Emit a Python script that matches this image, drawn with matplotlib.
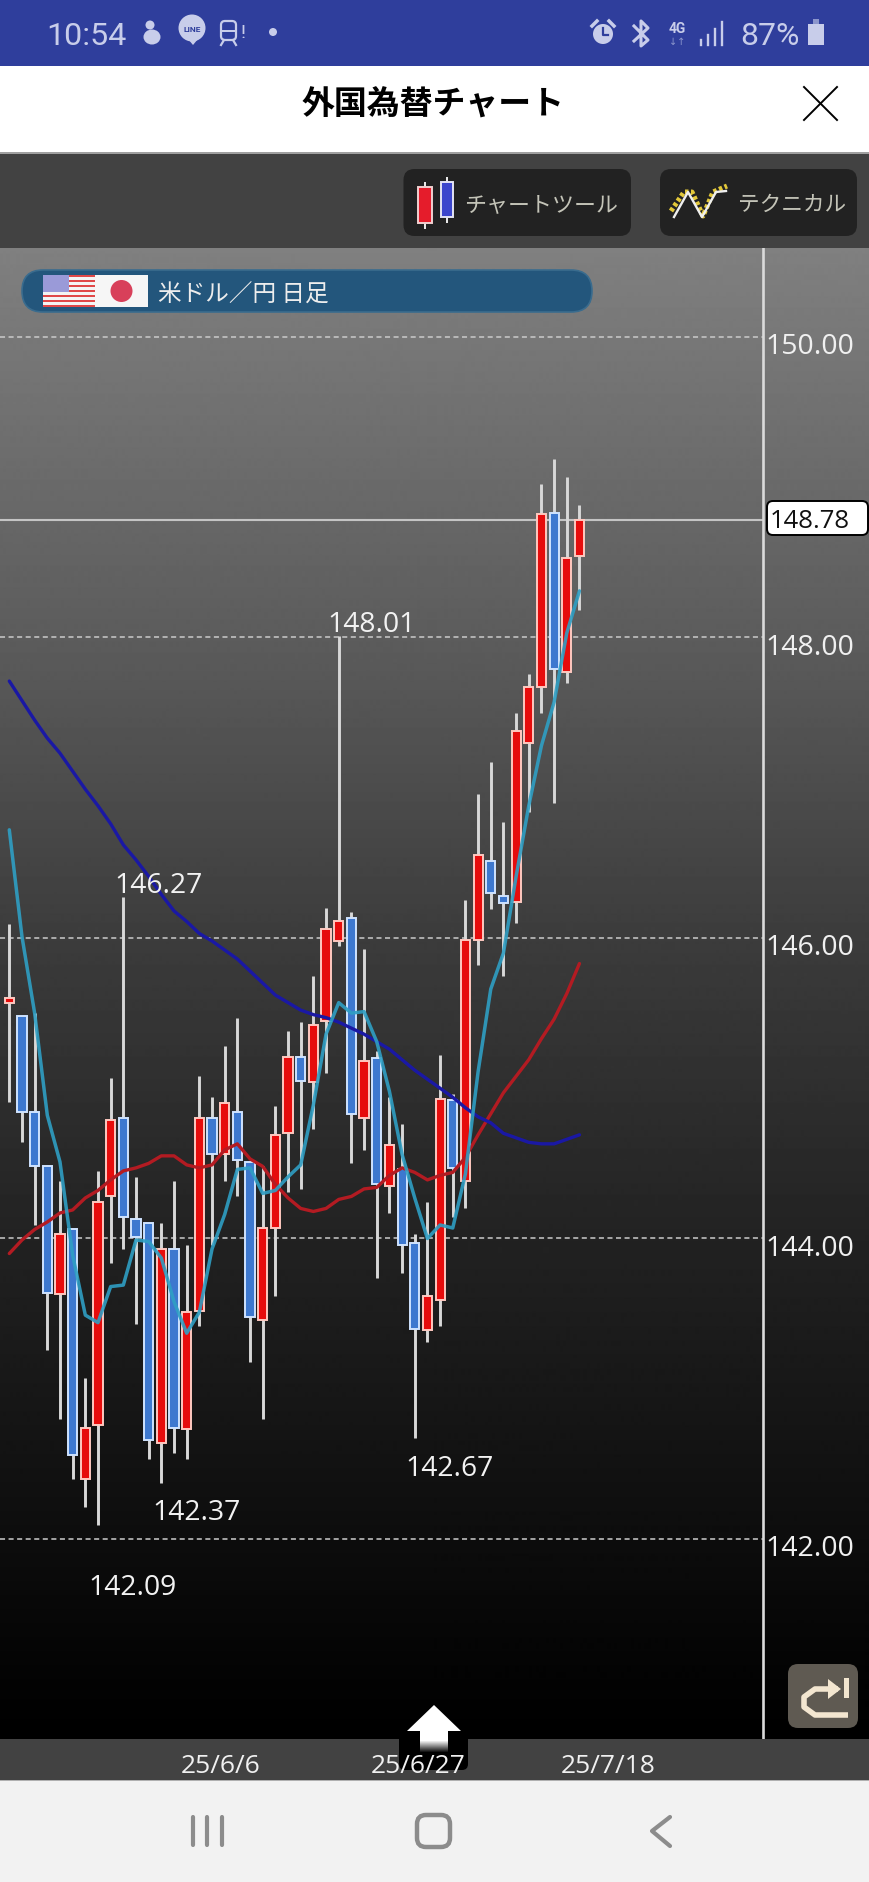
import numpy as np
import matplotlib
matplotlib.use("Agg")
import matplotlib.pyplot as plt
from matplotlib.patches import Rectangle, FancyBboxPatch, Polygon, Circle, Ellipse
from matplotlib.transforms import ScaledTranslation

plt.rcParams['font.family'] = ['Open Sans', 'Noto Sans CJK JP', 'DejaVu Sans']

# ---------- data ----------
highs = [146.09,145.48,145.50,144.48,144.38,144.06,143.07,144.45,145.07,146.27,144.41,144.10,144.10,144.38,143.96,145.08,
         144.94,145.28,145.47,144.51,144.48,144.88,145.38,145.44,145.75,146.20,148.01,146.17,145.93,145.25,144.94,144.76,
         144.03,144.24,145.22,144.96,146.25,146.96,147.17,146.77,147.50,147.76,149.02,149.19,149.07,148.88]
opens = [145.57,145.48,144.84,144.48,143.63,144.06,142.40,142.76,144.28,144.80,144.13,144.10,142.64,143.93,142.73,143.52,
         144.80,144.56,144.84,144.51,143.46,144.07,144.70,145.21,145.04,145.45,145.98,146.13,144.80,145.20,144.35,144.46,
         143.97,143.39,143.59,144.92,144.38,145.99,146.51,146.28,146.24,147.30,147.67,148.83,147.77,148.54]
closes = [145.60,144.84,144.48,143.64,144.03,142.56,142.74,144.24,144.79,144.14,144.01,142.66,143.93,142.74,143.51,144.80,
          144.56,144.90,144.52,143.48,144.07,144.69,145.21,145.05,145.42,146.06,146.11,144.83,145.18,144.36,144.62,143.96,
          143.40,143.62,144.93,144.47,145.99,146.55,146.30,146.23,147.38,147.67,148.82,147.79,148.53,148.78]
lows = [144.91,144.64,144.09,143.26,142.80,142.40,142.21,142.09,143.84,143.93,143.43,142.53,142.37,142.57,142.53,143.42,
        143.96,144.38,144.28,143.18,142.80,143.62,144.31,144.33,144.73,145.10,145.95,144.50,144.59,143.74,144.17,143.77,
        142.67,143.31,143.42,144.14,144.20,145.82,146.19,145.75,146.10,146.84,147.50,146.90,147.70,148.18]
ma_short = [146.72,146.01,145.50,144.82,144.51,143.89,143.49,143.44,143.68,143.69,143.99,143.98,143.87,143.58,143.37,143.51,
            143.93,144.16,144.46,144.47,144.30,144.32,144.41,144.49,144.89,145.36,145.57,145.50,145.51,145.31,144.98,144.56,
            144.27,144.00,144.09,144.07,144.43,145.11,145.66,145.90,146.41,146.88,147.28,147.57,148.03,148.31]
ma_mid = [143.90,143.99,144.06,144.11,144.17,144.19,144.27,144.32,144.39,144.45,144.47,144.50,144.55,144.55,144.49,144.47,
          144.49,144.59,144.63,144.53,144.48,144.36,144.27,144.20,144.18,144.20,144.26,144.28,144.33,144.34,144.42,144.47,
          144.44,144.39,144.42,144.44,144.54,144.69,144.83,144.97,145.08,145.19,145.33,145.46,145.63,145.83]
ma_long = [147.71,147.58,147.45,147.33,147.23,147.11,146.99,146.88,146.76,146.62,146.52,146.41,146.29,146.18,146.11,146.03,
           145.98,145.92,145.86,145.78,145.70,145.62,145.57,145.52,145.49,145.47,145.44,145.40,145.36,145.31,145.26,145.19,
           145.12,145.06,145.00,144.94,144.87,144.81,144.77,144.70,144.67,144.64,144.63,144.63,144.66,144.69]
y_ticks = [150, 148, 146, 144, 142]
date_idx = [15, 30, 45]
date_labels = ['25/6/6', '25/6/27', '25/7/18']
last_price = 148.78
# label text, bar index, price, offset
notes = [('146.27', 9, 146.27, 35, -12), ('148.01', 26, 148.01, 33, -12), ('142.37', 12, 142.37, 35, 29),
         ('142.09', 7, 142.09, 35, 62), ('142.67', 32, 142.67, 35, 30)]

W, H = 869, 1883
PX = 0.72  # points per pixel at dpi 100
fig = plt.figure(figsize=(W / 100, H / 100), dpi=100, facecolor='#424242')

# ---------- background chrome ----------
bg = fig.add_axes([0, 0, 1, 1], zorder=0)
bg.set_xlim(0, W); bg.set_ylim(H, 0); bg.axis('off')
def rect(a, x0, y0, x1, y1, c, **kw):
    a.add_patch(Rectangle((x0, y0), x1 - x0, y1 - y0, fc=c, ec='none', **kw))
def rrect(a, x0, y0, x1, y1, c, r=10, ec='none', lw=0, **kw):
    a.add_patch(FancyBboxPatch((x0 + r, y0 + r), x1 - x0 - 2 * r, y1 - y0 - 2 * r,
                               boxstyle=f'round,pad={r},rounding_size={r}', fc=c, ec=ec, lw=lw, **kw))
rect(bg, 0, 0, W, 66.5, '#2F3E9C')
rect(bg, 0, 66.5, W, 153.5, '#FFFFFF')
rect(bg, 0, 153.5, W, 249, '#424242')
rect(bg, 0, 152.5, W, 154.5, '#A0A0A0')
rect(bg, 0, 1740, W, 1781, '#424242')
rect(bg, 0, 1781, W, H, '#F2F2F2')
rect(bg, 0, 1780.5, W, 1782, '#B0B0B0')
rrect(bg, 399, 1728, 468, 1771, '#000000', r=6)

# ---------- chart axes ----------
top_px, bot_px = 249, 1740
ax = fig.add_axes([0, 1 - bot_px / H, 1, (bot_px - top_px) / H], zorder=1)
ax.patch.set_alpha(0)
yscale = 150.25
bar_px = 12.67
grad_px = np.arange(top_px, bot_px + 1)
grad = np.interp(grad_px, [249, 660, 940, 1240, 1540, 1680, 1740], [128, 90, 60, 34, 13, 3, 0])[:, None]
ax.imshow(grad, extent=[0, 1, 0, 1], transform=ax.transAxes, aspect='auto', cmap='gray', vmin=0, vmax=255, zorder=0)
ax.set_ylim(150 - (bot_px - 338) / yscale, 150 + (338 - top_px) / yscale)
ax.set_xlim(-9.3 / bar_px, (W - 9.3) / bar_px)
for s in ax.spines.values():
    s.set_visible(False)

axis_x = (763.5 - 9.3) / bar_px
ax.hlines(y_ticks, ax.get_xlim()[0], axis_x, colors='#C9C9C9', lw=1.4, linestyles=[(0, (2.6, 1.8))], zorder=1, alpha=.8)
ax.hlines(last_price, ax.get_xlim()[0], axis_x, colors='#C4C4C4', lw=1.5, zorder=1)
ax.axvline(axis_x, color='#DADADA', lw=1.9, zorder=1)

idx = np.arange(len(highs))
o, c = np.array(opens), np.array(closes)
up = c >= o
ax.vlines(idx, lows, highs, colors='#D8D8D8', lw=2.1, zorder=2)
ax.bar(idx[up], np.abs(c - o)[up], bottom=np.minimum(o, c)[up], width=0.72, color='#E60C0C', edgecolor='#FFC9C0', lw=1.4, zorder=3)
ax.bar(idx[~up], np.abs(c - o)[~up], bottom=np.minimum(o, c)[~up], width=0.72, color='#3D78CF', edgecolor='#CFE3FF', lw=1.4, zorder=3)
ax.plot(idx, ma_mid, color='#B31B22', lw=2.4, zorder=4, solid_capstyle='round')
ax.plot(idx, ma_long, color='#1A18A4', lw=2.4, zorder=4, solid_capstyle='round')
ax.plot(idx, ma_short, color='#2F9FC4', lw=2.5, zorder=5, alpha=.9, solid_capstyle='round')

ax.yaxis.tick_right()
ax.set_yticks(y_ticks)
ax.set_yticklabels([f'{v:.2f}' for v in y_ticks], fontsize=20.5, color='#F0F0F0', family=['Open Sans'])
ax.tick_params(axis='y', length=0, pad=(765.5 - W) * PX, labelright=True)
for lab in ax.get_yticklabels():
    lab.set_ha('left')
    lab.set_transform(lab.get_transform() + ScaledTranslation(0, -6 / 100, fig.dpi_scale_trans))
ax.set_xticks(date_idx)
ax.set_xticklabels(date_labels, fontsize=19, color='#F0F0F0', family=['Open Sans'], ha='left')
ax.tick_params(axis='x', length=0, pad=10)
for lab in ax.get_xticklabels():
    lab.set_transform(lab.get_transform() + ScaledTranslation(-19 / 100, 0, fig.dpi_scale_trans))

for txt, i, p, dx, dy in notes:
    ax.annotate(txt, xy=(i, p), xytext=(dx * PX, -dy * PX), textcoords='offset points', ha='center', va='center',
                fontsize=20.3, color='#F2F2F2', family=['Open Sans'], zorder=6)

# ---------- overlay ----------
ui = fig.add_axes([0, 0, 1, 1], zorder=2)
ui.patch.set_alpha(0)
ui.set_xlim(0, W); ui.set_ylim(H, 0); ui.axis('off')

# last price box and value
rrect(ui, 767, 502, 868, 536, 'white', r=6, ec='black', lw=1.4)
ax_last = ui.annotate(f'{last_price:.2f}', xy=(axis_x, last_price), xycoords=ax.transData,
                      xytext=((770 - 763.5) * PX, 0), textcoords='offset points',
                      ha='left', va='center', fontsize=18.5, color='#111111', family=['Open Sans'])

# status bar
st = '#C8CDEA'
ui.text(46, 36, '10:54', fontsize=23.2, color=st, family=['Roboto'], ha='left', va='center')
ui.text(740, 36, '87%', fontsize=23, color=st, family=['Roboto'], ha='left', va='center')
ui.add_patch(Ellipse((152, 38), 17, 15, fc=st)); ui.add_patch(Circle((150, 26), 4.5, fc=st))
ui.add_patch(Circle((192, 29), 13.5, fc=st)); ui.add_patch(Polygon([[188, 40], [198, 40], [193, 46]], fc=st))
ui.text(192, 29, 'LINE', fontsize=6, color='#2F3E9C', ha='center', va='center', fontweight='bold', family=['Roboto'])
ui.add_patch(FancyBboxPatch((222, 23), 13, 17, boxstyle='round,pad=1,rounding_size=4', fc='none', ec=st, lw=1.6))
rect(ui, 222, 31, 235, 33, st)
ui.plot([224, 221], [41, 46], color=st, lw=1.6); ui.plot([233, 236], [41, 46], color=st, lw=1.6)
ui.text(243, 33, '!', fontsize=14, color=st, ha='center', va='center', family=['Roboto'])
ui.add_patch(Circle((273, 33), 4, fc=st))
ui.add_patch(Circle((603, 35), 10, fc=st)); ui.plot([603, 603, 608], [29, 36, 36], color='#2F3E9C', lw=1.6)
ui.plot([592, 597], [27, 22], color=st, lw=2.5); ui.plot([609, 614], [22, 27], color=st, lw=2.5)
ui.plot([634, 648, 641, 641, 648, 634], [27, 41, 47, 22, 29, 42], color=st, lw=2.2)
ui.text(677, 29, '4G', fontsize=10, color=st, ha='center', va='center', fontweight='bold', family=['Roboto'])
ui.text(677, 42, '↓↑', fontsize=7, color='#8C96CC', ha='center', va='center', family=['DejaVu Sans'])
for xx, yy in zip([701, 708, 715, 722], [41, 36, 30, 23]):
    ui.plot([xx, xx], [yy, 46], color=st, lw=1.7)
rect(ui, 808, 25, 824, 46, st); rect(ui, 813, 20, 819, 25, '#8C96CC')

# header
ui.text(433, 105, '外国為替チャート', fontsize=23.7, color='black', fontweight='bold', family=['Noto Sans CJK JP'], ha='center', va='center')
ui.plot([804, 837], [121, 88], color='black', lw=1.4); ui.plot([804, 837], [88, 121], color='black', lw=1.4)

# tool buttons
rrect(ui, 403.5, 170, 631, 237, '#222222', r=11)
rrect(ui, 660, 170, 857, 237, '#222222', r=11)
rect(ui, 424, 183, 426, 230, '#E8E8E8')
rect(ui, 418, 188, 432, 224, '#E51C2B'); ui.add_patch(Rectangle((418, 188), 14, 36, fc='none', ec='#F0D0D0', lw=1.4))
rect(ui, 446, 178, 448, 224, '#E8E8E8')
rect(ui, 441, 183, 453, 218, '#3C46CC'); ui.add_patch(Rectangle((441, 183), 12, 35, fc='none', ec='#E4E4F4', lw=1.4))
ui.text(541, 205, 'チャートツール', fontsize=15.8, color='#C4C4B8', family=['Noto Sans CJK JP'], ha='center', va='center')
ui.text(792, 205, 'テクニカル', fontsize=15.6, color='#C4C4B8', family=['Noto Sans CJK JP'], ha='center', va='center')
zx = [671, 684, 692, 703, 713, 727]; zy = [212, 193, 193, 217, 193, 187]
ui.plot(zx, zy, color='#E3C83A', lw=3.6, ls=(0, (0.7, 0.5)))
ui.plot([674, 688, 702, 716, 726], [218, 193, 218, 193, 192], color='#EFEFEF', lw=1.7)

# symbol pill
rrect(ui, 22, 271, 592, 313, '#23567C', r=21, ec='#3A6C8E', lw=1.2)
rect(ui, 43, 276, 95, 308, '#F4F4F4')
for k in range(7):
    y0 = 276 + k * 32 / 6.5
    rect(ui, 43, y0, 95, y0 + 32 / 13, '#E04848')
rect(ui, 43, 276, 69, 293, '#9A9AD8')
rect(ui, 95, 276, 148, 308, '#F6F6F6')
ui.add_patch(Circle((121.5, 292), 11, fc='#D8405A'))
ui.text(158, 295, '米ドル／円 日足', fontsize=17, color='#EDEDED', family=['Noto Sans CJK JP'], ha='left', va='center')

# arrow
ui.add_patch(Polygon([[434, 1706], [461, 1732], [407, 1732]], fc='white', ec='none'))
rect(ui, 420, 1732, 448, 1742, 'white')
for k in range(12):
    v = 1 - k / 12
    rect(ui, 420, 1741 + k, 448, 1742 + k, (v, v, v))
# return button
rrect(ui, 788, 1665, 858, 1729, '#5F5A52', r=10)
cr = '#F3E6D0'
ui.plot([848, 815, 804, 804, 815, 838], [1716, 1716, 1708, 1698, 1690, 1690], color=cr, lw=4, solid_capstyle='butt')
ui.add_patch(Polygon([[828, 1680], [841, 1690], [828, 1700]], fc=cr, ec='none'))
rect(ui, 844, 1679, 849, 1699, cr)

# nav bar
nv = '#8C8C8C'
for xx in [193, 207, 222]:
    ui.plot([xx, xx], [1818, 1846], color=nv, lw=3, solid_capstyle='round')
ui.add_patch(FancyBboxPatch((425, 1824), 17, 16, boxstyle='round,pad=8,rounding_size=9', fc='none', ec=nv, lw=3.2))
ui.plot([670, 652, 670], [1818, 1832, 1847], color=nv, lw=3, solid_capstyle='round', solid_joinstyle='round')

fig.savefig('out.png', dpi=100, facecolor=fig.get_facecolor())
